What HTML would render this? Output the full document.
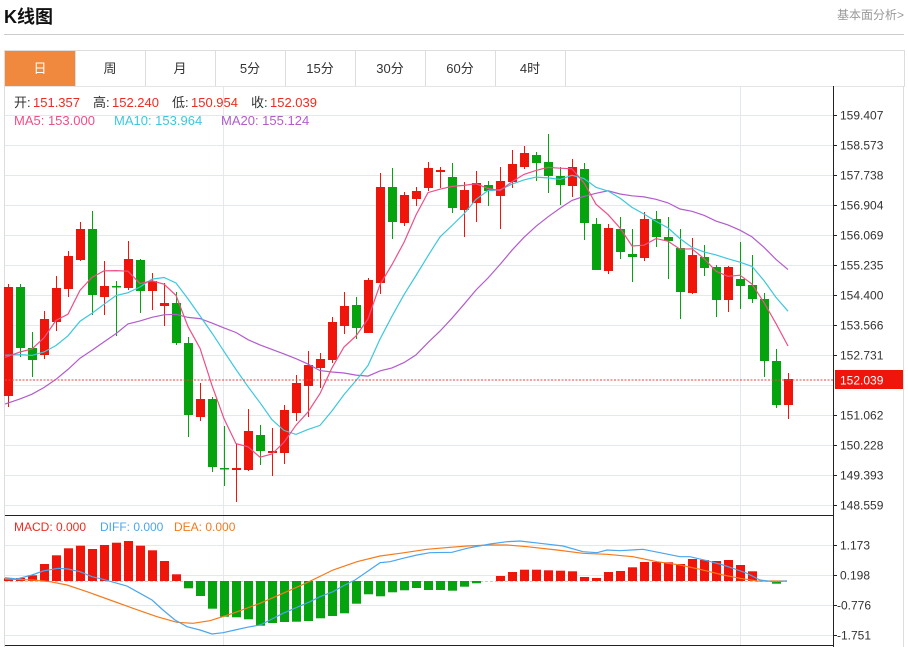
<!DOCTYPE html>
<html><head><meta charset="utf-8">
<style>
html,body{margin:0;padding:0;background:#fff;}
body{width:908px;height:647px;position:relative;overflow:hidden;font-family:"Liberation Sans","Noto Sans CJK SC",sans-serif;}
.title{position:absolute;left:4px;top:3px;font-size:18px;font-weight:bold;color:#111;}
.more{position:absolute;right:4px;top:6px;font-size:12px;color:#999;}
.hr{position:absolute;left:4px;top:34px;width:900px;height:1px;background:#ccc;}
.tabs{position:absolute;left:4px;top:50px;width:899px;height:35px;border:1px solid #ddd;border-bottom:1px solid #e5e5e5;}
.tab{position:absolute;top:0;height:35px;width:70px;border-right:1px solid #ddd;text-align:center;line-height:35px;font-size:13px;color:#333;}
.tab.on{background:#f0883e;color:#fff;}
svg{position:absolute;left:0;top:0;}
</style></head><body>
<div class="title">K线图</div>
<div class="more">基本面分析&gt;</div>
<div class="hr"></div>
<div class="tabs">
<div class="tab on" style="left:0">日</div>
<div class="tab" style="left:70px">周</div>
<div class="tab" style="left:140px">月</div>
<div class="tab" style="left:210px">5分</div>
<div class="tab" style="left:280px">15分</div>
<div class="tab" style="left:350px">30分</div>
<div class="tab" style="left:420px">60分</div>
<div class="tab" style="left:490px">4时</div>
</div>
<svg id="s" width="908" height="647" xmlns="http://www.w3.org/2000/svg" font-family="Liberation Sans, Noto Sans CJK SC, sans-serif"></svg>
<script>
var R='#f0150a',G='#05a30d';
var C=[
['R',287,396,284,407],['G',287,348,284,357],['G',348,360,332,377],['R',319,355,311,359],['R',288,322,276,331],
['R',256,289,251,297],['R',229,260,222,261],['G',229,295,211,315],['R',286,297,261,315],['G',286,287,281,336],
['R',259,288,241,290],['G',260,291,259,313],['R',281,291,273,310],['R',303,306,283,326],['G',303,343,292,345],
['G',343,415,337,437],['R',399,417,383,421],['G',399,467,397,472],['G',468,469,426,486],['R',468,470,444,502],
['R',431,470,409,471],['G',435,451,425,465],['R',451,453,428,476],['R',410,453,405,464],['R',383,413,375,421],
['R',365,386,351,417],['R',359,368,353,388],['R',322,360,317,363],['R',306,326,292,334],['G',305,328,297,339],
['R',280,333,278,333],['R',187,283,173,294],['G',187,222,168,239],['R',195,223,192,226],['R',191,199,187,206],
['R',168,188,162,191],['R',170,172,167,188],['G',177,208,163,213],['R',190,210,182,237],['R',183,203,171,222],
['G',185,191,181,206],['R',181,196,167,229],['R',164,182,150,188],['R',153,167,146,169],['G',155,163,152,181],
['G',162,176,134,193],['G',176,185,167,205],['R',167,186,159,197],['G',169,223,163,240],['G',224,270,218,270],
['R',228,271,224,274],['G',229,252,217,259],['G',254,257,229,282],['R',219,258,212,261],['G',219,237,211,247],
['G',237,241,217,279],['G',248,292,229,319],['R',255,293,238,294],['G',257,268,245,276],['G',267,300,265,317],
['R',267,300,266,312],['G',279,286,242,309],['G',285,299,255,303],['G',299,361,293,377],['G',361,405,349,408],
['R',379,405,373,419]];
var M=[578.3,578,575.3,564,555.3,548.3,545.7,549,545,542.7,541,545.7,550.3,561,574.3,588.3,596,608.7,616.7,617.3,619.3,625.7,623,622,621.7,621,618.3,616,613.3,603.7,594.3,596.3,592.3,590.3,588,590,590,590.7,586.7,583.3,581,576,572,569.7,569.7,570.3,570.7,571.3,577,578,572,571,567.3,562,562,562.3,564,559,560,561,560,565,571.3,580.3,583.7,581.5];
var DIFF=[[5,577.7],[17,579],[32,575],[43,571],[58,568.3],[68,569],[80,571.7],[92,576.7],[103,579.3],[115,582.7],[127,586],[140,593.3],[152,600],[163,610],[175,620],[187,626.7],[200,630],[212,634],[223,632.7],[235,630],[247,627.3],[260,625],[270,620],[283,613.3],[297,607.3],[310,601.7],[320,596.7],[333,591.7],[343,586],[355,580],[367,571.7],[380,562.7],[390,561.7],[403,558.3],[417,555],[430,552.7],[452,552.3],[467,548.3],[490,544],[507,541.7],[520,541],[540,543.3],[563,546],[583,551.7],[597,552.7],[607,550],[620,550.7],[643,549.3],[660,552.7],[680,556.7],[690,556.7],[707,560.7],[723,565],[733,568.3],[747,573.3],[760,580],[773,581.7],[787,581]];
var DEA=[[5,579],[33,580],[50,581.7],[67,585],[87,591.7],[110,600],[133,608.3],[157,616.7],[177,622.3],[193,623.3],[210,620.7],[233,613.3],[260,603.3],[283,593.3],[307,582.7],[333,570],[357,561.7],[380,556],[400,553.3],[427,549.3],[450,547.3],[467,546],[490,545],[507,545],[527,546.7],[557,550],[583,553.3],[607,554.3],[633,556.7],[657,561.7],[680,565],[700,569.3],[723,575],[740,578.3],[757,581],[787,581]];
var h='';
function ln(x1,y1,x2,y2,c,w,extra){h+='<line x1="'+x1+'" y1="'+y1+'" x2="'+x2+'" y2="'+y2+'" stroke="'+c+'" stroke-width="'+(w||1)+'" '+(extra||'')+'/>';}
function tx(x,y,t,c,s,a){h+='<text x="'+x+'" y="'+y+'" fill="'+c+'" font-size="'+(s||12)+'"'+(a?' text-anchor="'+a+'"':'')+'>'+t+'</text>';}
// frame
ln(4.5,86,4.5,647,'#ddd');ln(903.5,86,903.5,647,'#ddd');
// grids price
for(var y=115;y<=505;y+=30){ln(5,y+.5,833,y+.5,'#e3e8ee');}
for(var y=545;y<=635;y+=30){ln(5,y+.5,833,y+.5,'#e3e8ee');}
ln(223.5,86,223.5,645,'#e3e8ee');ln(740.5,86,740.5,645,'#e3e8ee');
ln(5,515.5,833,515.5,'#222');ln(5,645.5,833,645.5,'#222');
ln(833.5,86,833.5,647,'#222');
// price labels
var pl=['159.407','158.573','157.738','156.904','156.069','155.235','154.400','153.566','152.731','','151.062','150.228','149.393','148.559'];
for(var i=0;i<pl.length;i++){var yy=115+i*30;if(pl[i]){ln(833,yy+.5,837,yy+.5,'#222');tx(840,yy+4.5,pl[i],'#333',12);}}
var ml=['1.173','0.198','-0.776','-1.751'];
for(var i=0;i<4;i++){var yy=545+i*30;ln(833,yy+.5,837,yy+.5,'#222');tx(i<2?840:837,yy+4.5,ml[i],'#333',12);}
// candles
var close=[];
for(var i=0;i<C.length;i++){var c=C[i],x=8+i*12,col=c[0]=='R'?R:G;
 ln(x+.5,c[3],x+.5,c[4],col,1);
 h+='<rect x="'+(x-4)+'" y="'+c[1]+'" width="9" height="'+Math.max(1.5,c[2]-c[1])+'" fill="'+col+'"/>';
 close.push(c[0]=='R'?c[1]:c[2]);}
// MA
var pad=[];for(var i=0;i<10;i++)pad.push(453);for(var i=0;i<5;i++)pad.push(353);for(var i=0;i<4;i++)pad.push(375);
var all=pad.concat(close);
function ma(n,col){var p=[];for(var i=0;i<close.length;i++){var k=i+19,s=0;for(var j=0;j<n;j++)s+=all[k-j];p.push((i==0?5:8+i*12)+','+(s/n).toFixed(1));}
 h+='<polyline points="'+p.join(' ')+'" fill="none" stroke="'+col+'" stroke-width="1.2"/>';}
ma(20,'#b25ccc');ma(10,'#3cc8dc');ma(5,'#ee4f86');
// current price line
ln(5,380,833,380,'#f04040',1,'stroke-dasharray="2,1.5"');
h+='<rect x="835" y="370" width="68" height="19" fill="'+R+'"/>';tx(840,384.5,'152.039','#fff',12);
// macd
ln(5,581.5,787,581.5,'#a9d4ec',1,'stroke-dasharray="3,2"');
for(var i=0;i<M.length;i++){var x=8+i*12,v=M[i];if(Math.abs(v-581)<0.8)continue;
 if(v<581)h+='<rect x="'+(x-4)+'" y="'+v+'" width="9" height="'+(581-v)+'" fill="'+R+'"/>';
 else h+='<rect x="'+(x-4)+'" y="581" width="9" height="'+(v-581)+'" fill="'+G+'"/>';}
function pl2(a,col){h+='<polyline points="'+a.map(function(p){return p[0]+','+p[1]}).join(' ')+'" fill="none" stroke="'+col+'" stroke-width="1.2"/>';}
pl2(DEA,'#f57a1c');pl2(DIFF,'#4aa6ee');
// info texts
ln(5,86.5,833,86.5,'#e5e5e5');
ln(5,145.5,5,145.5,'#fff');
tx(14,107,'开:','#333',13);tx(33,107,'151.357','#f02a20',13);
tx(93,107,'高:','#333',13);tx(112,107,'152.240','#f02a20',13);
tx(172,107,'低:','#333',13);tx(191,107,'150.954','#f02a20',13);
tx(251,107,'收:','#333',13);tx(270,107,'152.039','#f02a20',13);
tx(14,125,'MA5: 153.000','#ee4f86',13);tx(114,125,'MA10: 153.964','#3cc8dc',13);tx(221,125,'MA20: 155.124','#b25ccc',13);
tx(14,531,'MACD: 0.000','#f02a20',12);tx(100,531,'DIFF: 0.000','#4aa6ee',12);tx(174,531,'DEA: 0.000','#f57a1c',12);
document.getElementById('s').innerHTML=h;
</script>
</body></html>
